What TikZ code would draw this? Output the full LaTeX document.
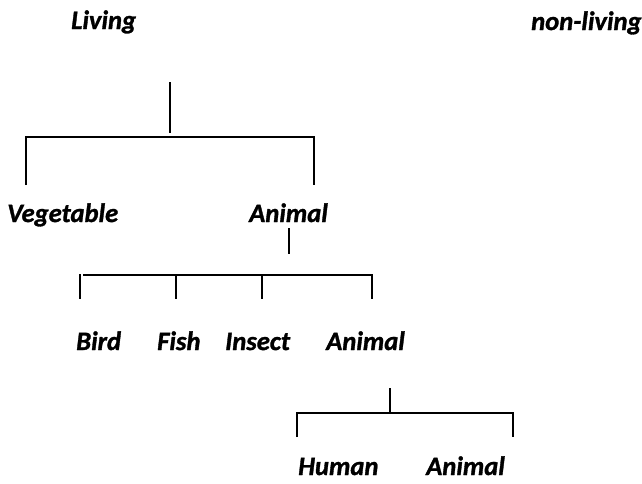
\documentclass[tikz,border=0pt]{standalone}
\usepackage{fontspec}
\setmainfont{Carlito}[BoldItalicFeatures={FakeBold=1.2}]
\begin{document}
\begin{tikzpicture}[x=1pt,y=-1pt,
  lbl/.style={anchor=base west,inner sep=0pt,font=\fontsize{26.6}{31}\selectfont\bfseries\itshape},
  ln/.style={line width=1.8pt,line cap=butt}]
\useasboundingbox (0,0) rectangle (642,483);
% labels
\node[lbl] (living) at (71,29) {Living};
\node[lbl] (nonliving) at (531,30) {non-living};
\node[lbl] (veg) at (7,222) {Vegetable};
\node[lbl] (animal1) at (249,222) {Animal};
\node[lbl] (bird) at (76,350) {Bird};
\node[lbl] (fish) at (157,350) {Fish};
\node[lbl] (insect) at (225,350) {Insect};
\node[lbl] (animal2) at (326,350) {Animal};
\node[lbl] (human) at (298,475) {Human};
\node[lbl] (animal3) at (426,475) {Animal};
% bracket 1
\coordinate (a1) at (170,82);
\coordinate (a2) at (170,133);
\coordinate (a3) at (26,137);
\coordinate (a4) at (314,137);
\coordinate (a5) at (26,185);
\coordinate (a6) at (314,185);
\draw[ln] (a1) -- (a2);
\draw[ln] (a5) -- (a3) -- (a4) -- (a6);
% bracket 2
\coordinate (b1) at (289,228);
\coordinate (b2) at (289,254);
\coordinate (b3) at (83,275);
\coordinate (b4) at (372,275);
\coordinate (b5) at (80,274);
\coordinate (b6) at (80,299);
\coordinate (b7) at (176,275);
\coordinate (b8) at (176,299);
\coordinate (b9) at (262,275);
\coordinate (b10) at (262,299);
\coordinate (b11) at (372,299);
\draw[ln] (b1) -- (b2);
\draw[ln] (b3) -- (b4) -- (b11);
\draw[ln] (b5) -- (b6);
\draw[ln] (b7) -- (b8);
\draw[ln] (b9) -- (b10);
% bracket 3
\coordinate (c1) at (390,388);
\coordinate (c2) at (390,413);
\coordinate (c3) at (297,413);
\coordinate (c4) at (513,413);
\coordinate (c5) at (297,437);
\coordinate (c6) at (513,437);
\draw[ln] (c1) -- (c2);
\draw[ln] (c5) -- (c3) -- (c4) -- (c6);
\end{tikzpicture}
\end{document}
